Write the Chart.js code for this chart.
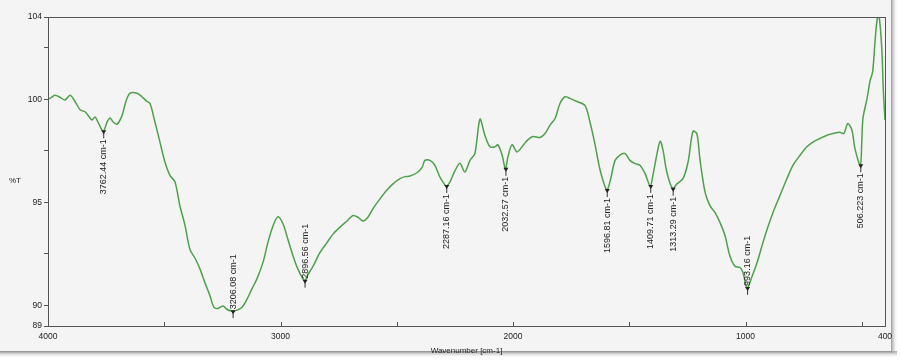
<!DOCTYPE html>
<html>
<head>
<meta charset="utf-8">
<title>FTIR spectrum</title>
<script src="https://cdn.jsdelivr.net/npm/chart.js@4/dist/chart.umd.min.js"></script>
<style>
  html, body { margin: 0; padding: 0; background: #ffffff; }
  #wrap { width: 900px; height: 363px; }
</style>
</head>
<body>
<div id="wrap"><canvas id="spectrum" width="900" height="363"></canvas></div>
<script>
// Wavenumber (cm-1) and transmittance (%T) of the recorded spectrum
const wavenumbers = [
  4000, 3985, 3970, 3948, 3927, 3905, 3884, 3862, 3841, 3828, 3811, 3798, 3785, 3762.44,
  3746, 3733, 3720, 3703, 3682, 3665, 3647, 3617, 3596, 3574, 3561, 3540, 3518, 3497,
  3475, 3454, 3432, 3411, 3389, 3368, 3346, 3325, 3303, 3286, 3269, 3247, 3230, 3206.08,
  3187, 3166, 3144, 3123, 3101, 3075, 3054, 3032, 3011, 2989, 2968, 2946, 2925, 2896.56,
  2882, 2860, 2830, 2800, 2774, 2744, 2714, 2688, 2667, 2645, 2624, 2602, 2572, 2542,
  2516, 2486, 2465, 2443, 2413, 2391, 2379, 2357, 2336, 2314, 2287.16, 2271, 2249, 2228,
  2207, 2185, 2164, 2142, 2121, 2099, 2077, 2065, 2047, 2032.57, 2022, 2004, 1983, 1961,
  1940, 1914, 1884, 1862, 1841, 1819, 1798, 1776, 1755, 1725, 1690, 1669, 1647, 1626,
  1596.81, 1583, 1561, 1540, 1518, 1497, 1475, 1454, 1432, 1409.71, 1396, 1379, 1367, 1355,
  1338, 1313.29, 1295, 1269, 1247, 1226, 1209, 1196, 1174, 1153, 1131, 1110, 1088, 1067,
  1045, 1024, 1011, 993.16, 972, 950, 929, 907, 882, 852, 822, 796, 766, 736,
  710, 680, 650, 624, 594, 577, 560, 542, 529, 506.223, 500, 495, 477, 465,
  453, 443, 433, 425, 414, 407, 400
];
const transmittance = [
  100.0, 100.1, 100.2, 100.1, 99.97, 100.2, 99.9, 99.5, 99.4, 99.23, 99.0, 99.15, 98.9, 98.45,
  98.9, 99.1, 98.9, 98.8, 99.2, 99.9, 100.3, 100.3, 100.13, 99.9, 99.8, 98.9, 97.9, 96.96,
  96.3, 96.0, 94.8, 93.9, 92.7, 92.3, 91.76, 91.1, 90.45, 89.9, 89.85, 89.97, 89.8, 89.72,
  89.77, 89.9, 90.3, 90.8, 91.3, 92.1, 93.06, 93.87, 94.3, 93.95, 93.2, 92.4, 91.76, 91.2,
  91.5, 91.9, 92.57, 93.05, 93.46, 93.8, 94.1, 94.36, 94.28, 94.1, 94.28, 94.7, 95.17, 95.6,
  95.9, 96.15, 96.25, 96.28, 96.44, 96.7, 97.04, 97.04, 96.8, 96.23, 95.8, 96.0, 96.55, 96.9,
  96.47, 97.04, 97.37, 99.04, 98.26, 97.7, 97.7, 97.8, 97.3, 96.63, 97.2, 97.8, 97.45, 97.7,
  98.0, 98.2, 98.15, 98.34, 98.75, 99.07, 99.8, 100.13, 100.05, 99.9, 99.7, 98.9, 97.8, 96.6,
  95.6, 96.0, 97.04, 97.3, 97.37, 97.04, 96.88, 96.8, 96.4, 95.8, 96.45, 97.45, 97.97, 97.55,
  96.45, 95.66, 95.9, 96.15, 96.96, 98.45, 98.33, 97.1, 95.5, 94.84, 94.5, 94.03, 93.38, 92.4,
  91.9, 91.84, 91.6, 90.85, 91.4, 92.08, 92.9, 93.7, 94.5, 95.33, 96.15, 96.8, 97.28, 97.7,
  97.93, 98.1, 98.26, 98.34, 98.4, 98.34, 98.83, 98.5, 97.6, 96.8, 97.9, 99.07, 100.05, 100.86,
  101.35, 102.8, 103.95, 104.0, 102.5, 100.4, 99.0
];

// Annotated absorption minima
const peakWavenumbers = [3762.44, 3206.08, 2896.56, 2287.16, 2032.57, 1596.81, 1409.71, 1313.29, 993.16, 506.223];
const peakLabels = ['3762.44 cm-1', '3206.08 cm-1', '2896.56 cm-1', '2287.16 cm-1', '2032.57 cm-1',
                    '1596.81 cm-1', '1409.71 cm-1', '1313.29 cm-1', '993.16 cm-1', '506.223 cm-1'];

// Axis ticks
const xTickValues = [4000, 3500, 3000, 2500, 2000, 1500, 1000, 500, 400];
const xTickLabels = [4000, 3000, 2000, 1000, 400];
const yTickValues = [89, 90, 92.5, 95, 97.5, 100, 102.5, 104];
const yTickLabels = [89, 90, 95, 100, 104];

Chart.defaults.font.family = '"Liberation Sans", Arial, sans-serif';

const spectrumDecor = {
  id: 'spectrumDecor',
  beforeDraw(chart) {
    const ctx = chart.ctx;
    ctx.save();
    ctx.fillStyle = '#ffffff';
    ctx.fillRect(0, 0, chart.width, chart.height);
    ctx.fillStyle = '#f4f4f4';
    ctx.fillRect(0, 0, 893, 353);
    // soft shadow along the bottom and right edges of the panel
    const gb = ctx.createLinearGradient(0, 351, 0, 358);
    gb.addColorStop(0, '#8a8a8a');
    gb.addColorStop(1, 'rgba(255,255,255,0)');
    ctx.fillStyle = gb;
    ctx.fillRect(0, 351, 897, 7);
    const gr = ctx.createLinearGradient(891, 0, 898, 0);
    gr.addColorStop(0, '#9a9a9a');
    gr.addColorStop(1, 'rgba(255,255,255,0)');
    ctx.fillStyle = gr;
    ctx.fillRect(891, 0, 7, 353);
    ctx.restore();
  },
  afterDatasetsDraw(chart) {
    const ctx = chart.ctx;
    const area = chart.chartArea;
    const xs = chart.scales.x;
    const ys = chart.scales.y;
    ctx.save();
    // plot frame
    ctx.strokeStyle = '#555555';
    ctx.lineWidth = 1;
    ctx.strokeRect(Math.round(area.left) + 0.5, Math.round(area.top) + 0.5,
                   Math.round(area.right - area.left), Math.round(area.bottom - area.top));

    // x ticks point into the plot
    ctx.beginPath();
    xTickValues.forEach(v => {
      const px = Math.round(xs.getPixelForValue(v)) + 0.5;
      ctx.moveTo(px, area.bottom);
      ctx.lineTo(px, area.bottom - 4);
    });
    ctx.stroke();

    // peak markers and labels
    ctx.font = '9px "Liberation Sans", Arial, sans-serif';
    ctx.fillStyle = '#222222';
    ctx.strokeStyle = '#333333';
    peakWavenumbers.forEach((w, i) => {
      const idx = wavenumbers.indexOf(w);
      const t = transmittance[idx];
      const px = xs.getPixelForValue(w);
      const py = ys.getPixelForValue(t);
      ctx.beginPath();
      ctx.moveTo(px + 0.5, py);
      ctx.lineTo(px + 0.5, py + 7);
      ctx.stroke();
      ctx.beginPath();
      ctx.moveTo(px - 2, py - 1);
      ctx.lineTo(px + 3, py - 1);
      ctx.lineTo(px + 0.5, py + 3);
      ctx.closePath();
      ctx.fill();
      const tw = ctx.measureText(peakLabels[i]).width;
      ctx.save();
      ctx.textBaseline = 'middle';
      if (py + 8 + tw <= area.bottom - 2) {
        ctx.translate(px + 0.5, py + 8);
        ctx.rotate(-Math.PI / 2);
        ctx.textAlign = 'right';
      } else {
        ctx.translate(px + 0.5, py - 2);
        ctx.rotate(-Math.PI / 2);
        ctx.textAlign = 'left';
      }
      ctx.fillText(peakLabels[i], 0, 0);
      ctx.restore();
    });

    // y axis caption
    ctx.font = '8px "Liberation Sans", Arial, sans-serif';
    ctx.textAlign = 'center';
    ctx.textBaseline = 'middle';
    ctx.fillText('%T', 15, 181);
    ctx.restore();
  }
};

new Chart(document.getElementById('spectrum'), {
  type: 'line',
  data: {
    labels: wavenumbers,
    datasets: [{
      data: wavenumbers.map((w, i) => ({ x: w, y: transmittance[i] })),
      borderColor: '#4ea04a',
      borderWidth: 1.5,
      pointRadius: 0,
      tension: 0.3,
      fill: false
    }]
  },
  options: {
    responsive: false,
    animation: false,
    devicePixelRatio: 1,
    layout: { padding: { left: 0, right: 15, top: 17, bottom: 7 } },
    plugins: { legend: { display: false }, tooltip: { enabled: false } },
    scales: {
      x: {
        type: 'linear',
        reverse: true,
        min: 400,
        max: 4000,
        afterBuildTicks: s => { s.ticks = xTickValues.map(v => ({ value: v })); },
        afterFit: s => { s.height = 30; },
        ticks: {
          autoSkip: false,
          maxRotation: 0,
          padding: 6,
          color: '#222222',
          font: { size: 8.5 },
          callback: v => xTickLabels.includes(v) ? String(v) : ''
        },
        grid: { drawOnChartArea: false, drawTicks: false, color: '#555555' },
        border: { color: '#555555' },
        title: {
          display: true,
          text: 'Wavenumber [cm-1]',
          color: '#222222',
          font: { size: 8 },
          padding: { top: 0, bottom: 0 }
        }
      },
      y: {
        min: 89,
        max: 104,
        afterBuildTicks: s => { s.ticks = yTickValues.map(v => ({ value: v })); },
        afterFit: s => { s.width = 48; },
        ticks: {
          autoSkip: false,
          padding: 2,
          color: '#222222',
          font: { size: 8.5 },
          callback: v => yTickLabels.includes(v) ? String(v) : ''
        },
        grid: { drawOnChartArea: false, tickLength: 4, color: '#555555' },
        border: { color: '#555555' }
      }
    }
  },
  plugins: [spectrumDecor]
});
</script>
</body>
</html>
